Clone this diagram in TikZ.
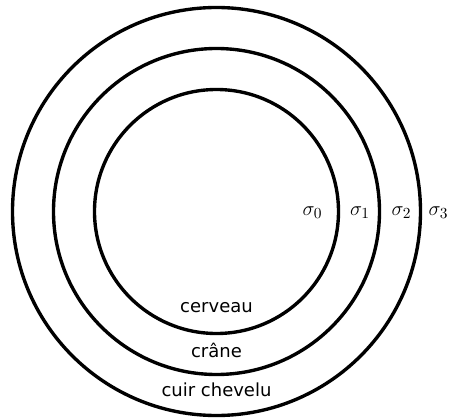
\documentclass[tikz,border=0pt]{standalone}
\usepackage{fontspec}
\setmainfont{DejaVu Sans}
\usepackage{tikz}
\usetikzlibrary{positioning}

\begin{document}
\begin{tikzpicture}[
  ring/.style={draw=black, line width=2.4pt, circle, inner sep=0pt},
  layername/.style={font=\fontsize{12.8}{15}\selectfont, anchor=base, inner sep=0pt},
  condname/.style={font=\fontsize{15.6}{18}\selectfont, anchor=base, inner sep=0pt}]

\useasboundingbox (-5.4125,-5.1875) rectangle (5.8125,5.2875);

% Head layers
\node[ring, minimum size=10.2cm] (scalp) at (0,0) {};
\node[ring, minimum size=8.15cm] (skull) at (0,0) {};
\node[ring, minimum size=6.1cm] (brain) at (0,0) {};

% Layer names
\node[layername] (lbrain) at (0,-2.5125) {cerveau};
\node[layername] (lskull) at (0,-3.6375) {crâne};
\node[layername] (lscalp) at (0,-4.6125) {cuir chevelu};

% Conductivities
\node[condname] (s0) at (2.4,-0.0875) {$\sigma_0$};
\node[condname] (s1) at (3.5875,-0.0875) {$\sigma_1$};
\node[condname] (s2) at (4.625,-0.0875) {$\sigma_2$};
\node[condname] (s3) at (5.55,-0.0875) {$\sigma_3$};

\end{tikzpicture}
\end{document}
